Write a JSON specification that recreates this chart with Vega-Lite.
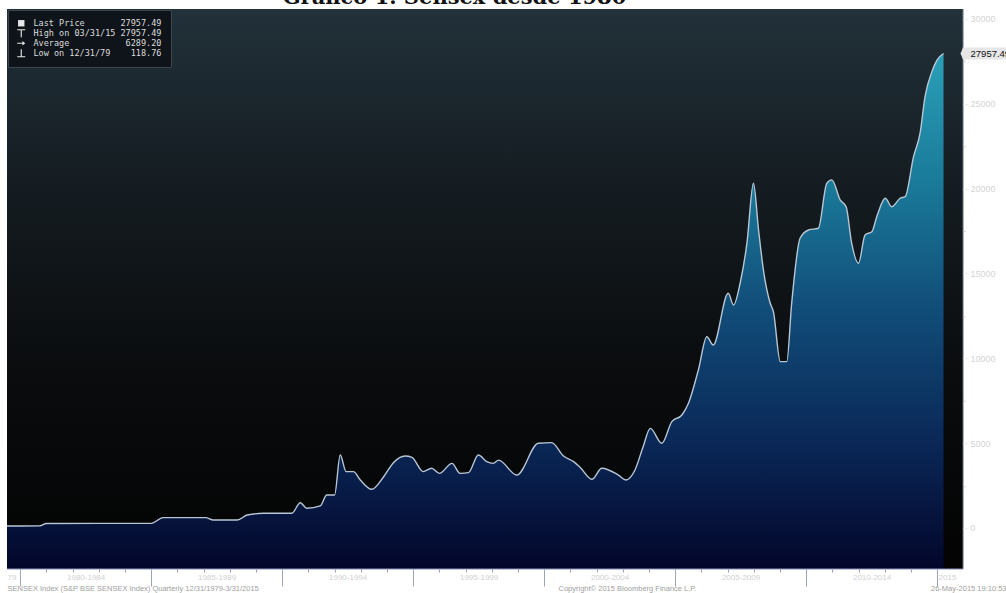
{
  "$schema": "https://vega.github.io/schema/vega-lite/v6.json",
  "width": 999,
  "height": 584,
  "autosize": {"type": "none"},
  "padding": {"left": 7, "top": 9, "right": 0, "bottom": 0},
  "background": "#ffffff",
  "title": {"text": "Gráfico 1. Sensex desde 1980", "font": "DejaVu Serif", "fontSize": 21, "fontWeight": "bold", "color": "#111111", "anchor": "middle", "frame": "group", "dx": -52, "dy": 17, "offset": 0, "baseline": "alphabetic"},
  "datasets": {
    "sensex": [
      {"date": "1979-07-01", "value": 122},
      {"date": "1979-12-31", "value": 119},
      {"date": "1980-10-01", "value": 128},
      {"date": "1981-01-01", "value": 265},
      {"date": "1985-01-01", "value": 275},
      {"date": "1985-06-15", "value": 610},
      {"date": "1987-02-01", "value": 610},
      {"date": "1987-05-15", "value": 470},
      {"date": "1988-04-15", "value": 470},
      {"date": "1988-09-01", "value": 765},
      {"date": "1989-04-15", "value": 865},
      {"date": "1990-05-15", "value": 865},
      {"date": "1990-09-10", "value": 1490},
      {"date": "1990-12-10", "value": 1160},
      {"date": "1991-06-15", "value": 1300},
      {"date": "1991-09-15", "value": 1945},
      {"date": "1992-01-01", "value": 1945},
      {"date": "1992-03-20", "value": 4300},
      {"date": "1992-06-10", "value": 3320},
      {"date": "1992-09-20", "value": 3320},
      {"date": "1992-12-25", "value": 2830},
      {"date": "1993-06-01", "value": 2280},
      {"date": "1993-11-15", "value": 3020},
      {"date": "1994-04-01", "value": 3850},
      {"date": "1994-09-10", "value": 4240},
      {"date": "1994-12-15", "value": 4160},
      {"date": "1995-05-20", "value": 3320},
      {"date": "1995-09-15", "value": 3520},
      {"date": "1996-01-01", "value": 3220},
      {"date": "1996-06-25", "value": 3810},
      {"date": "1996-10-15", "value": 3220},
      {"date": "1997-02-10", "value": 3260},
      {"date": "1997-06-28", "value": 4300},
      {"date": "1997-10-22", "value": 3910},
      {"date": "1998-01-22", "value": 3810},
      {"date": "1998-04-05", "value": 4000},
      {"date": "1998-12-15", "value": 3120},
      {"date": "1999-10-12", "value": 4990},
      {"date": "2000-04-15", "value": 5030},
      {"date": "2000-09-27", "value": 4240},
      {"date": "2001-02-15", "value": 3910},
      {"date": "2001-05-15", "value": 3580},
      {"date": "2001-10-27", "value": 2870},
      {"date": "2002-03-15", "value": 3520},
      {"date": "2002-11-01", "value": 3120},
      {"date": "2003-02-15", "value": 2830},
      {"date": "2003-06-20", "value": 3420},
      {"date": "2003-10-12", "value": 4790},
      {"date": "2004-01-20", "value": 5870},
      {"date": "2004-06-28", "value": 4990},
      {"date": "2004-11-15", "value": 6270},
      {"date": "2005-04-05", "value": 6660},
      {"date": "2005-07-05", "value": 7350},
      {"date": "2005-11-20", "value": 9310},
      {"date": "2006-03-18", "value": 11270},
      {"date": "2006-06-15", "value": 10780},
      {"date": "2007-01-10", "value": 13830},
      {"date": "2007-03-25", "value": 13140},
      {"date": "2007-06-25", "value": 14420},
      {"date": "2007-09-28", "value": 16780},
      {"date": "2007-12-28", "value": 20310},
      {"date": "2008-03-08", "value": 17560},
      {"date": "2008-05-15", "value": 15200},
      {"date": "2008-08-18", "value": 13240},
      {"date": "2008-10-01", "value": 12750},
      {"date": "2009-01-05", "value": 9800},
      {"date": "2009-04-05", "value": 9800},
      {"date": "2009-06-13", "value": 13240},
      {"date": "2009-10-08", "value": 17070},
      {"date": "2010-02-03", "value": 17560},
      {"date": "2010-06-20", "value": 17660},
      {"date": "2010-10-15", "value": 20310},
      {"date": "2010-12-25", "value": 20510},
      {"date": "2011-04-20", "value": 19330},
      {"date": "2011-07-12", "value": 18930},
      {"date": "2011-09-27", "value": 16780},
      {"date": "2012-01-01", "value": 15600},
      {"date": "2012-04-01", "value": 17270},
      {"date": "2012-07-05", "value": 17460},
      {"date": "2012-09-12", "value": 18350},
      {"date": "2013-01-08", "value": 19430},
      {"date": "2013-04-08", "value": 18930},
      {"date": "2013-08-03", "value": 19430},
      {"date": "2013-10-12", "value": 19520},
      {"date": "2014-02-06", "value": 21880},
      {"date": "2014-05-08", "value": 23260},
      {"date": "2014-07-16", "value": 25420},
      {"date": "2014-10-20", "value": 26890},
      {"date": "2015-01-01", "value": 27580},
      {"date": "2015-03-31", "value": 27957.49}
    ],
    "stats": [
      {"item": "Last Price", "date": "2015-03-31", "value": 27957.49},
      {"item": "High on 03/31/15", "date": "2015-03-31", "value": 27957.49},
      {"item": "Average", "date": null, "value": 6289.20},
      {"item": "Low on 12/31/79", "date": "1979-12-31", "value": 118.76}
    ]
  },
  "layer": [
    {
      "data": {"values": [{}]},
      "mark": {"type": "rect", "fill": {"gradient": "linear", "x1": 0, "y1": 0, "x2": 0, "y2": 1, "stops": [{"offset": 0, "color": "#22313a"}, {"offset": 0.3, "color": "#151d22"}, {"offset": 0.65, "color": "#0a0c0e"}, {"offset": 1, "color": "#030303"}]}},
      "encoding": {
        "x": {"datum": {"year": 1979, "month": 7, "date": 1}, "type": "temporal",
              "scale": {"domain": [{"year": 1979, "month": 7, "date": 1}, {"year": 2017, "month": 8, "date": 18}], "nice": false},
              "axis": {"orient": "bottom", "offset": -24, "values": [
                {"year": 1980, "month": 1, "date": 1}, {"year": 1981, "month": 1, "date": 1}, {"year": 1982, "month": 1, "date": 1}, {"year": 1983, "month": 1, "date": 1}, {"year": 1984, "month": 1, "date": 1},
                {"year": 1985, "month": 1, "date": 1}, {"year": 1986, "month": 1, "date": 1}, {"year": 1987, "month": 1, "date": 1}, {"year": 1988, "month": 1, "date": 1}, {"year": 1989, "month": 1, "date": 1},
                {"year": 1990, "month": 1, "date": 1}, {"year": 1991, "month": 1, "date": 1}, {"year": 1992, "month": 1, "date": 1}, {"year": 1993, "month": 1, "date": 1}, {"year": 1994, "month": 1, "date": 1},
                {"year": 1995, "month": 1, "date": 1}, {"year": 1996, "month": 1, "date": 1}, {"year": 1997, "month": 1, "date": 1}, {"year": 1998, "month": 1, "date": 1}, {"year": 1999, "month": 1, "date": 1},
                {"year": 2000, "month": 1, "date": 1}, {"year": 2001, "month": 1, "date": 1}, {"year": 2002, "month": 1, "date": 1}, {"year": 2003, "month": 1, "date": 1}, {"year": 2004, "month": 1, "date": 1},
                {"year": 2005, "month": 1, "date": 1}, {"year": 2006, "month": 1, "date": 1}, {"year": 2007, "month": 1, "date": 1}, {"year": 2008, "month": 1, "date": 1}, {"year": 2009, "month": 1, "date": 1},
                {"year": 2010, "month": 1, "date": 1}, {"year": 2011, "month": 1, "date": 1}, {"year": 2012, "month": 1, "date": 1}, {"year": 2013, "month": 1, "date": 1}, {"year": 2014, "month": 1, "date": 1},
                {"year": 2015, "month": 1, "date": 1}],
                "tickSize": 3, "tickColor": "#9a9eb4", "labels": false, "domain": false, "grid": false, "zindex": 1,
                "title": "SENSEX Index (S&P BSE SENSEX Index)  Quarterly 12/31/1979-3/31/2015",
                "titleX": 0, "titleY": 19, "titleAlign": "left", "titleBaseline": "middle", "titleFontSize": 7.5, "titleFontWeight": "normal", "titleColor": "#a0a0a0"}},
        "x2": {"datum": {"year": 2016, "month": 1, "date": 1}},
        "y": {"datum": 30580, "type": "quantitative",
              "scale": {"domain": [-3830, 30580], "nice": false, "zero": false},
              "axis": {"orient": "right", "offset": -43, "values": [0, 5000, 10000, 15000, 20000, 25000, 30000], "format": "d",
                       "tickSize": 5, "tickWidth": 1.5, "tickColor": "#f0f0f0", "labelColor": "#d4d4d4", "labelFontSize": 9, "labelPadding": 2,
                       "domain": false, "grid": false, "title": null, "zindex": 1, "labelFlush": false, "labelOverlap": false}},
        "y2": {"datum": -2416}
      }
    },
    {
      "data": {"name": "sensex"},
      "mark": {"type": "area", "interpolate": "monotone", "fill": {"gradient": "linear", "x1": 0, "y1": 0, "x2": 0, "y2": 1, "stops": [{"offset": 0, "color": "#2a9fb8"}, {"offset": 0.25, "color": "#1a7a9a"}, {"offset": 0.5, "color": "#114c78"}, {"offset": 0.75, "color": "#0a2858"}, {"offset": 1, "color": "#03062a"}]}},
      "encoding": {
        "x": {"field": "date", "type": "temporal",
              "scale": {"domain": [{"year": 1979, "month": 7, "date": 1}, {"year": 2017, "month": 8, "date": 18}], "nice": false},
              "axis": {"orient": "bottom", "offset": -24, "values": [
                {"year": 1980, "month": 1, "date": 1}, {"year": 1985, "month": 1, "date": 1}, {"year": 1990, "month": 1, "date": 1}, {"year": 1995, "month": 1, "date": 1},
                {"year": 2000, "month": 1, "date": 1}, {"year": 2005, "month": 1, "date": 1}, {"year": 2010, "month": 1, "date": 1}, {"year": 2015, "month": 1, "date": 1}],
                "tickSize": 17, "tickColor": "#a0a4b8", "labels": false, "domain": false, "grid": false, "zindex": 1,
                "title": "Copyright© 2015 Bloomberg Finance L.P.",
                "titleX": 620, "titleY": 19, "titleAlign": "center", "titleBaseline": "middle", "titleFontSize": 7.5, "titleFontWeight": "normal", "titleColor": "#a0a0a0"}},
        "y": {"field": "value", "type": "quantitative",
              "scale": {"domain": [-3830, 30580], "nice": false, "zero": false},
              "axis": {"orient": "right", "offset": -43, "values": [2500, 7500, 12500, 17500, 22500, 27500],
                       "tickSize": 2, "tickColor": "#cccccc", "labels": false, "domain": false, "grid": false, "title": null, "zindex": 1}},
        "y2": {"datum": -2416}
      }
    },
    {
      "data": {"name": "sensex"},
      "mark": {"type": "line", "interpolate": "monotone", "stroke": "#b8c6d4", "strokeWidth": 1.4},
      "encoding": {
        "x": {"field": "date", "type": "temporal",
              "scale": {"domain": [{"year": 1979, "month": 7, "date": 1}, {"year": 2017, "month": 8, "date": 18}], "nice": false},
              "axis": {"orient": "bottom", "offset": -24, "values": [
                {"year": 1979, "month": 9, "date": 1}, {"year": 1982, "month": 7, "date": 1}, {"year": 1987, "month": 7, "date": 1}, {"year": 1992, "month": 7, "date": 1},
                {"year": 1997, "month": 7, "date": 1}, {"year": 2002, "month": 7, "date": 1}, {"year": 2007, "month": 7, "date": 1}, {"year": 2012, "month": 7, "date": 1}, {"year": 2015, "month": 5, "date": 18}],
                "labelExpr": "year(datum.value) == 1979 ? '79' : year(datum.value) == 2015 ? '2015' : (year(datum.value) - 2) + '-' + (year(datum.value) + 2)",
                "ticks": false, "tickSize": 0, "labelPadding": 4, "labelBaseline": "top", "labelFontSize": 8, "labelColor": "#d0d0d0",
                "labelFlush": false, "labelOverlap": false, "domain": false, "grid": false, "zindex": 1,
                "title": "26-May-2015 19:10:53",
                "titleX": 999, "titleY": 19, "titleAlign": "right", "titleBaseline": "middle", "titleFontSize": 7.5, "titleFontWeight": "normal", "titleColor": "#a0a0a0"}},
        "y": {"field": "value", "type": "quantitative", "scale": {"domain": [-3830, 30580], "nice": false, "zero": false}, "axis": null}
      }
    },
    {
      "data": {"values": [{}]},
      "mark": {"type": "rule", "stroke": "#8a90b8", "strokeWidth": 1.2},
      "encoding": {
        "x": {"datum": {"year": 1979, "month": 7, "date": 1}, "type": "temporal", "scale": {"domain": [{"year": 1979, "month": 7, "date": 1}, {"year": 2017, "month": 8, "date": 18}], "nice": false}, "axis": null},
        "x2": {"datum": {"year": 2016, "month": 1, "date": 1}},
        "y": {"datum": -2416, "type": "quantitative", "scale": {"domain": [-3830, 30580], "nice": false, "zero": false}, "axis": null}
      }
    },
    {
      "data": {"values": [{}]},
      "mark": {"type": "rule", "stroke": "#aab2bc", "strokeWidth": 1.2},
      "encoding": {
        "x": {"datum": {"year": 2016, "month": 1, "date": 1}, "type": "temporal", "scale": {"domain": [{"year": 1979, "month": 7, "date": 1}, {"year": 2017, "month": 8, "date": 18}], "nice": false}, "axis": null},
        "y": {"datum": -2416, "type": "quantitative", "scale": {"domain": [-3830, 30580], "nice": false, "zero": false}, "axis": null},
        "y2": {"datum": 30580}
      }
    },
    {
      "data": {"name": "stats"},
      "transform": [{"calculate": "pad(datum.item, 16, '\u00a0') + pad(format(datum.value, '.2f'), 9, '\u00a0', 'left')", "as": "entry"}],
      "mark": {"type": "point", "filled": true, "fill": "#e8e8e8", "opacity": 0},
      "encoding": {
        "shape": {"field": "entry", "type": "nominal", "sort": null,
                  "scale": {"range": ["M-0.8,-0.8H0.8V0.8H-0.8Z", "M-1,-1H1V-0.72H0.14V1H-0.14V-0.72H-1Z", "M-1,-0.14H0.3V-0.55L1,0L0.3,0.55V0.14H-1Z", "M-0.14,-1H0.14V0.72H1V1H-1V0.72H-0.14Z"]},
                  "legend": {"title": null, "orient": "top-left", "offset": 1, "padding": 9, "fillColor": "#0e1419", "strokeColor": "#3c4650",
                             "labelFont": "DejaVu Sans Mono", "labelFontSize": 8.5, "labelColor": "#dcdcdc", "symbolSize": 64, "symbolOpacity": 1,
                             "symbolStrokeWidth": 0, "symbolFillColor": "#e8e8e8", "rowPadding": 1, "labelOffset": 8,
                             "encode": {"symbols": {"update": {"opacity": {"value": 1}, "fill": {"value": "#e8e8e8"}}}}}}
      }
    },
    {
      "data": {"name": "stats"},
      "transform": [{"filter": "datum.item == 'Last Price'"}],
      "mark": {"type": "point", "shape": "M1.95,-0.6H7.2V0.6H1.95L1.7,0Z", "size": 400, "filled": true, "fill": "#e6e6e6", "strokeWidth": 0, "opacity": 1},
      "encoding": {
        "x": {"field": "date", "type": "temporal", "scale": {"domain": [{"year": 1979, "month": 7, "date": 1}, {"year": 2017, "month": 8, "date": 18}], "nice": false}, "axis": null},
        "y": {"field": "value", "type": "quantitative", "scale": {"domain": [-3830, 30580], "nice": false, "zero": false}, "axis": null}
      }
    },
    {
      "data": {"name": "stats"},
      "transform": [{"filter": "datum.item == 'Last Price'"}],
      "mark": {"type": "text", "align": "left", "baseline": "middle", "dx": 27, "fontSize": 9.5, "font": "Liberation Sans", "fill": "#111111"},
      "encoding": {
        "x": {"field": "date", "type": "temporal", "scale": {"domain": [{"year": 1979, "month": 7, "date": 1}, {"year": 2017, "month": 8, "date": 18}], "nice": false}, "axis": null},
        "y": {"field": "value", "type": "quantitative", "scale": {"domain": [-3830, 30580], "nice": false, "zero": false}, "axis": null},
        "text": {"field": "value", "type": "quantitative", "format": ".2f"}
      }
    }
  ],
  "resolve": {"scale": {"x": "shared", "y": "shared"}, "axis": {"x": "independent", "y": "independent"}},
  "config": {
    "view": {"stroke": null, "fill": "#000000"},
    "axis": {"labelFont": "Liberation Sans", "titleFont": "Liberation Sans"}
  }
}
